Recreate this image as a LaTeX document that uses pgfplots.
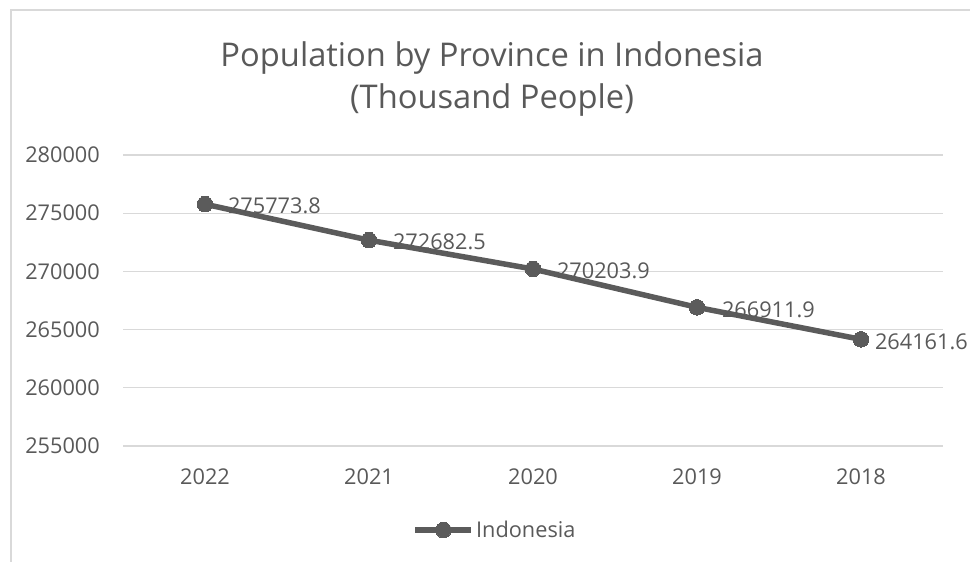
\documentclass[border=0pt]{standalone}
\usepackage{fontspec}
\setmainfont{Open Sans}
\usepackage{pgfplots}
\pgfplotsset{compat=1.18}
\definecolor{txt}{HTML}{595959}
\definecolor{ln}{HTML}{5B5B5B}
\definecolor{grd}{HTML}{D9D9D9}
\begin{document}
\begin{tikzpicture}[x=1bp,y=1bp]
\path[use as bounding box] (0,0) rectangle (970,562);
\draw[grd, line width=1.5bp] (11,0) -- (11,552) -- (970,552);
\node[txt, align=center, font=\fontsize{32.8}{42}\selectfont] at (492,483) {Population by Province in Indonesia\\(Thousand People)};
\begin{axis}[
  at={(123bp,116bp)}, anchor=south west,
  scale only axis, width=820bp, height=291bp,
  xmin=-0.5, xmax=4.5, ymin=255000, ymax=280000,
  xtick={0,1,2,3,4}, xticklabels={2022,2021,2020,2019,2018},
  ytick={255000,260000,265000,270000,275000,280000},
  yticklabels={255000,260000,265000,270000,275000,280000},
  scaled y ticks=false,
  axis line style={draw=none},
  major tick length=0,
  ymajorgrids, major grid style={grd, line width=1.3bp},
  tick label style={txt, font=\fontsize{21.8}{24}\selectfont},
  yticklabel style={anchor=east, inner sep=0pt, xshift=-23bp},
  xticklabel style={anchor=center, inner sep=0pt, yshift=-31bp},
  clip=false,
  legend style={draw=none, fill=none, at={(0.4537,-0.289)}, anchor=center, font=\fontsize{21.8}{24}\selectfont, text=txt, inner sep=0pt},
  legend cell align=left,
  legend image code/.code={\draw[mark repeat=2, mark phase=2, #1] plot coordinates {(0bp,0bp) (28bp,0bp) (56bp,0bp)};},
]
\addplot[ln, line width=5.5bp, mark=*, mark size=7.8bp, mark options={fill=ln, draw=ln, line width=0bp},
  nodes near coords, point meta=explicit symbolic,
  visualization depends on={value \thisrow{dx} \as \dx},
  nodes near coords style={anchor=west, inner sep=0pt, xshift=\dx bp, yshift=-2bp, txt, font=\fontsize{21.8}{24}\selectfont}]
  table[meta=lab] {
  x y lab dx
  0 275773.8 275773.8 23
  1 272682.5 272682.5 24
  2 270203.9 270203.9 24
  3 266911.9 266911.9 25
  4 264161.6 264161.6 14
  };
\addlegendentry{Indonesia}
\end{axis}
\end{tikzpicture}
\end{document}
